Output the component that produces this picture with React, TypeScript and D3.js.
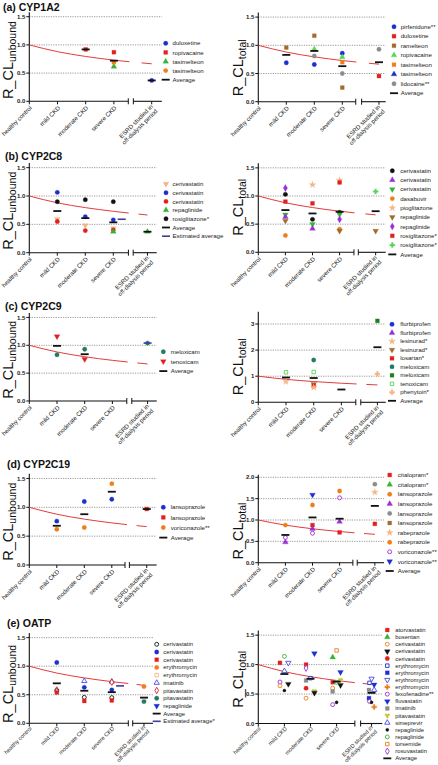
import React from "react";
import * as d3 from "d3";

const FONT = "'Liberation Sans', Arial, Helvetica, sans-serif";

const BLUE = "#1d2fd0";
const RED = "#e2201c";
const GREEN = "#33b533";
const LGREEN = "#55d655";
const ORANGE = "#f07d1a";
const BROWN = "#a06b2b";
const GRAY = "#8c8c8c";
const BLACK = "#111111";
const PURPLE = "#9b2fd6";
const TAN = "#f5b482";
const TEAL = "#217a66";
const DKGREEN = "#1e7d1e";
const YELLOW = "#c7c23a";
const NAVY = "#3d3d9e";
const VIOLET = "#4a4ae0";
const CURVE = "#e23c3c";

const CATEGORIES = ["healthy control", "mild CKD", "moderate CKD", "severe CKD", "ESRD studied in|off-dialysis period"];
// reference model curve at each category
const REF_CURVE = [1.0, 0.88, 0.795, 0.73, 0.665];

// ---------- (a) CYP1A2 ----------
const A1_NAMES = ["duloxetine", "ropivacaine", "tasimelteon", "tasimelteon"];
const A1_MARKS = [["circle", BLUE], ["square", RED], ["triUp", GREEN], ["circle", ORANGE]];
const A1_POINTS = [[1, 2, 0.92], [1, 3, 0.87], [2, 3, 0.615], [3, 3, 0.69], [0, 4, 0.37]];
const A1_AVG = [[2, 0.92], [3, 0.72], [4, 0.37]];

const A2_NAMES = ["pirfenidone**", "duloxetine", "ramelteon", "ropivacaine", "tasimelteon", "tasimelteon", "lidocaine**"];
const A2_MARKS = [["circle", BLUE], ["square", RED], ["square", BROWN], ["triUp", LGREEN], ["square", ORANGE], ["triUp", BLUE], ["circle", GRAY]];
const A2_POINTS = [
  [2, 1, 0.96], [0, 1, 0.69],
  [2, 2, 1.17], [3, 2, 0.93], [6, 2, 0.81], [0, 2, 0.66],
  [0, 3, 0.86], [3, 3, 0.79], [4, 3, 0.7], [6, 3, 0.5], [2, 3, 0.25],
  [6, 4, 0.93], [1, 4, 0.455],
];
const A2_AVG = [[1, 0.83], [2, 0.9], [3, 0.63], [4, 0.7]];

// ---------- (b) CYP2C8 ----------
const B1_NAMES = ["cerivastatin", "cerivastatin", "cerivastatin", "repaglinide", "rosiglitazone*"];
const B1_MARKS = [["triDown", TAN], ["circle", BLUE], ["circle", RED], ["triUp", GREEN], ["circle", BLACK]];
const B1_POINTS = [
  [1, 1, 1.065], [4, 1, 0.9], [0, 1, 0.59], [2, 1, 0.55],
  [4, 2, 0.935], [1, 2, 0.635], [0, 2, 0.48], [2, 2, 0.39],
  [4, 3, 0.9], [1, 3, 0.58], [0, 3, 0.43], [2, 3, 0.4], [3, 3, 0.37],
  [3, 4, 0.37],
];
const B1_AVG = [[1, 0.735], [2, 0.61], [3, 0.535], [4, 0.37]];
const B1_EST = [[3, 0.59, 0.3]];

const B2_NAMES = ["cerivastatin", "cerivastatin", "cerivastatin", "dasabuvir", "pioglitazone", "repaglinide", "repaglinide", "rosiglitazone*", "rosiglitazone*"];
const B2_MARKS = [["circle", BLACK], ["triUp", PURPLE], ["triDown", GREEN], ["circle", ORANGE], ["star", TAN], ["triDown", BROWN], ["diamond", PURPLE], ["square", RED], ["plus", LGREEN]];
const B2_POINTS = [
  [6, 1, 1.14], [0, 1, 1.03], [7, 1, 0.9], [2, 1, 0.67], [1, 1, 0.63], [5, 1, 0.56], [3, 1, 0.3],
  [4, 2, 1.2], [7, 2, 0.87], [0, 2, 0.585], [2, 2, 0.5], [1, 2, 0.42],
  [4, 3, 1.28], [7, 3, 1.24], [0, 3, 0.71], [2, 3, 0.675], [6, 3, 0.585], [3, 3, 0.41], [5, 3, 0.38],
  [8, 4, 1.08], [5, 4, 0.38],
];
const B2_AVG = [[1, 0.75], [2, 0.69], [3, 0.72], [4, 0.73]];

// ---------- (c) CYP2C9 ----------
const C1_NAMES = ["meloxicam", "tenoxicam"];
const C1_MARKS = [["circle", TEAL], ["triDown", RED]];
const C1_POINTS = [[1, 1, 1.16], [0, 1, 0.83], [0, 2, 0.93], [1, 2, 0.75], [0, 4, 1.04]];
const C1_AVG = [[1, 0.99], [2, 0.84]];
const C1_EST = [[4, 1.04, 0]];

const C2_NAMES = ["flurbiprofen", "flurbiprofen", "lesinurad*", "lesinurad*", "losartan*", "meloxicam", "meloxicam", "tenoxicam", "phenytoin*"];
const C2_MARKS = [["circle", BLUE], ["triUp", PURPLE], ["star", TAN], ["triDown", BROWN], ["square", RED], ["circle", TEAL], ["square", DKGREEN], ["oSquare", LGREEN], ["plus", TAN]];
const C2_POINTS = [
  [7, 1, 1.15], [2, 1, 0.79],
  [5, 2, 1.62], [7, 2, 1.16], [3, 2, 0.7], [4, 2, 0.63], [2, 2, 0.57],
  [6, 4, 3.12], [8, 4, 1.09],
];
const C2_AVG = [[1, 0.95], [2, 0.93], [3, 0.49], [4, 2.11]];

// ---------- (d) CYP2C19 ----------
const D1_NAMES = ["lansoprazole", "lansoprazole", "voriconazole**"];
const D1_MARKS = [["circle", BLUE], ["square", RED], ["circle", ORANGE]];
const D1_POINTS = [[0, 1, 0.76], [2, 1, 0.62], [0, 2, 1.1], [2, 2, 0.65], [2, 3, 1.41], [0, 3, 1.14], [1, 4, 0.97]];
const D1_AVG = [[1, 0.68], [2, 0.88], [3, 1.27], [4, 0.97]];

const D2_NAMES = ["citalopram*", "citalopram*", "lansoprazole", "lansoprazole", "lansoprazole", "lansoprazole", "rabeprazole", "rabeprazole", "voriconazole**", "voriconazole**"];
const D2_MARKS = [["square", RED], ["triUp", GREEN], ["circle", ORANGE], ["triUp", PURPLE], ["circle", GRAY], ["square", BROWN], ["star", TAN], ["circle", ORANGE], ["oCircle", PURPLE], ["triDown", BLUE]];
const D2_POINTS = [
  [2, 1, 0.88], [8, 1, 0.59], [3, 1, 0.48],
  [9, 2, 1.59], [7, 2, 1.35], [0, 2, 0.88], [3, 2, 0.79], [8, 2, 0.69],
  [7, 3, 1.68], [8, 3, 1.52], [3, 3, 0.96], [0, 3, 0.71],
  [4, 4, 1.84], [6, 4, 1.65], [0, 4, 0.91],
];
const D2_AVG = [[1, 0.65], [2, 1.06], [3, 1.03], [4, 1.33]];

// ---------- (e) OATP ----------
const E1_NAMES = ["cerivastatin", "cerivastatin", "cerivastatin", "erythromycin", "erythromycin", "imatinib", "pitavastatin", "pitavastatin", "repaglinide"];
const E1_MARKS = [["oCircle", BLACK], ["circle", BLUE], ["square", RED], ["circle", ORANGE], ["oSquare", TAN], ["oTriUp", VIOLET], ["oDiamond", RED], ["circle", TEAL], ["triDown", BLUE]];
const E1_POINTS = [
  [1, 1, 1.065], [6, 1, 0.585], [0, 1, 0.57], [2, 1, 0.54],
  [5, 2, 0.74], [1, 2, 0.63], [0, 2, 0.455], [2, 2, 0.39],
  [5, 3, 0.73], [6, 3, 0.72], [1, 3, 0.585], [0, 3, 0.45], [2, 3, 0.4],
  [3, 4, 0.645], [4, 4, 0.42], [7, 4, 0.38],
];
const E1_AVG = [[1, 0.7], [2, 0.57], [3, 0.545], [4, 0.45]];
const E1_EST = [[3, 0.655, 0.3]];

const E2_NAMES = ["atorvastatin", "bosentan", "cerivastatin", "cerivastatin", "cerivastatin", "erythromycin", "erythromycin", "erythromycin", "erythromycin", "fexofenadine**", "fluvastatin", "imatinib", "pitavastatin", "simeprevir", "repaglinide", "repaglinide", "torsemide", "rosuvastatin"];
const E2_MARKS = [["square", RED], ["triUp", GREEN], ["oCircle", ORANGE], ["triDown", BLACK], ["circle", RED], ["oSquare", BLUE], ["square", BLUE], ["oTriDown", VIOLET], ["plus", ORANGE], ["oCircle", PURPLE], ["triDown", BLUE], ["square", GRAY], ["wye", YELLOW], ["oTriUp", VIOLET], ["smallCircle", BLACK], ["oCircle", GREEN], ["oSquare", ORANGE], ["oDiamond", PURPLE]];
const E2_POINTS = [
  [0, 1, 1.03, -0.17], [15, 1, 1.14, 0], [7, 1, 1.03, 0.15], [13, 1, 0.89, 0], [9, 1, 0.705, -0.17], [2, 1, 0.64, -0.17], [3, 1, 0.67, 0.15], [14, 1, 0.56, 0],
  [10, 2, 1.19, 0.15], [0, 2, 1.0, -0.17], [17, 2, 0.94, -0.17], [5, 2, 0.77, 0], [11, 2, 0.73, -0.17], [4, 2, 0.6, -0.17], [12, 2, 0.55, 0.15], [3, 2, 0.52, 0.15], [2, 2, 0.43, -0.17],
  [16, 3, 1.24, 0], [1, 3, 1.125, -0.15], [10, 3, 0.87, 0.15], [0, 3, 0.7, -0.15], [15, 3, 0.7, 0], [12, 3, 0.74, 0.15], [3, 3, 0.65, 0.15], [2, 3, 0.6, -0.15], [11, 3, 0.545, -0.15], [14, 3, 0.36, 0], [9, 3, 0.32, -0.15],
  [7, 4, 0.76, 0], [5, 4, 0.69, -0.08], [10, 4, 0.66, 0.1], [11, 4, 0.57, -0.1], [13, 4, 0.57, 0.1], [6, 4, 0.43, -0.1], [9, 4, 0.375, -0.08], [14, 4, 0.36, 0], [8, 4, 0.28, 0.1],
];
const E2_AVG = [[1, 0.84], [2, 0.76], [3, 0.71], [4, 0.52]];

// ---------- layout ----------
const T15 = [0, 0.5, 1.0, 1.5];
const LFS = 6.1;
const L_A1 = { id: "a1", x0: 29.3, step: 28.2, esrd: 4.34, gridEnd: 4.7, brk: [3.51, 3.69], gap: [3.55, 3.98], y0: 101.3, per: 56.4, top: 1.58, ticks: T15, fmt: ".1f", labelX: 13, labelV: 0.73, mx: 165.7, tx: 172.5, ly: 43.3, ldy: 9.1, fs: LFS, xfs: 6.1, xoff: 5.5 };
const L_A2 = { id: "a2", x0: 258.3, step: 28, esrd: 4.31, gridEnd: 4.55, brk: [3.48, 3.69], gap: [3.5, 3.95], y0: 101.7, per: 56.4, top: 1.58, ticks: T15, fmt: ".1f", labelX: 243, labelV: 0.6, mx: 394, tx: 400.7, ly: 26.7, ldy: 9.5, fs: LFS, xfs: 6.1, xoff: 5.5 };
const L_B1 = { id: "b1", x0: 29.3, step: 28, esrd: 4.22, gridEnd: 4.55, brk: [3.54, 3.71], gap: [3.55, 3.9], y0: 252.7, per: 56.7, top: 1.58, ticks: T15, fmt: ".1f", labelX: 13, labelV: 0.74, mx: 166, tx: 172.5, ly: 184, ldy: 8.7, fs: LFS, xfs: 6.1, xoff: 5.5 };
const L_B2 = { id: "b2", x0: 258.3, step: 27.1, esrd: 4.33, gridEnd: 4.7, brk: [3.53, 3.69], gap: [3.55, 3.95], y0: 252.3, per: 56.3, top: 1.58, ticks: T15, fmt: ".1f", labelX: 243, labelV: 0.8, mx: 392.3, tx: 400.2, ly: 170.7, ldy: 9.3, fs: LFS, xfs: 6.1, xoff: 5.5 };
const L_C1 = { id: "c1", x0: 29.3, step: 27.7, esrd: 4.27, gridEnd: 4.6, brk: [3.52, 3.7], gap: [3.55, 3.9], y0: 401, per: 55.7, top: 1.58, ticks: T15, fmt: ".1f", labelX: 13, labelV: 0.74, mx: 163.3, tx: 170.7, ly: 351.7, ldy: 9.7, fs: LFS, xfs: 6.1, xoff: 5.5 };
const L_C2 = { id: "c2", x0: 258.3, step: 27.7, esrd: 4.3, gridEnd: 4.6, brk: [3.52, 3.7], gap: [3.55, 3.9], y0: 402.3, per: 26.1, top: 3.47, ticks: [0, 1, 2, 3], fmt: "d", labelX: 243, labelV: 1.36, mx: 392, tx: 400.2, ly: 324.3, ldy: 8.5, fs: LFS, xfs: 6.1, xoff: 5.5 };
const L_D1 = { id: "d1", x0: 29.3, step: 27.5, esrd: 4.27, gridEnd: 4.63, brk: [3.48, 3.64], gap: [3.55, 3.9], y0: 565, per: 57.7, top: 1.58, ticks: T15, fmt: ".1f", labelX: 13, labelV: 0.75, mx: 163.3, tx: 170.7, ly: 507.3, ldy: 10.1, fs: LFS, xfs: 6.1, xoff: 5.5 };
const L_D2 = { id: "d2", x0: 258.3, step: 27.1, esrd: 4.3, gridEnd: 4.64, brk: [3.49, 3.65], gap: [3.55, 3.9], y0: 562.7, per: 42.7, top: 2.06, ticks: [0, 0.5, 1, 1.5, 2], fmt: ".1f", labelX: 243, labelV: 0.74, mx: 389.7, tx: 397.8, ly: 475, ldy: 9.6, fs: LFS, xfs: 6.1, xoff: 5.5 };
const L_E1 = { id: "e1", x0: 29.3, step: 27.5, esrd: 4.17, gridEnd: 4.5, brk: [3.6, 3.76], gap: [3.6, 3.9], y0: 723.3, per: 57.1, top: 1.58, ticks: T15, fmt: ".1f", labelX: 13, labelV: 0.69, mx: 156.7, tx: 163.3, ly: 644.3, ldy: 7.7, fs: 5.9, xfs: 5.6, xoff: 4.2 };
const L_E2 = { id: "e2", x0: 258.3, step: 26.1, esrd: 4.34, gridEnd: 4.75, brk: [3.7, 3.92], gap: [3.7, 4.0], y0: 723.5, per: 58.9, top: 1.58, ticks: T15, fmt: ".1f", labelX: 243, labelV: 0.75, mx: 387.3, tx: 395.2, ly: 630, ldy: 7.13, fs: 5.9, xfs: 5.6, xoff: 4.2 };

const SYM: Record<string, any> = {
  circle: d3.symbolCircle, square: d3.symbolSquare, triUp: d3.symbolTriangle, triDown: d3.symbolTriangle,
  diamond: d3.symbolDiamond, star: d3.symbolStar, plus: d3.symbolCross, wye: d3.symbolWye, smallCircle: d3.symbolCircle,
};

function Marker({ shape, color, x, y }: { shape: string; color: string; x: number; y: number }) {
  const open = shape.startsWith("o");
  let base = open ? shape.slice(1) : shape;
  base = base.charAt(0).toLowerCase() + base.slice(1);
  const type = SYM[base] || d3.symbolCircle;
  let size = 15;
  if (base === "triUp" || base === "triDown") size = 14;
  if (base === "smallCircle") size = 8;
  if (base === "star") size = 14;
  if (base === "plus") size = 14;
  if (base === "wye") size = 12;
  if (open) size = 12;
  const d = d3.symbol().type(type).size(size)() as string;
  const rot = base === "triDown" ? " rotate(180)" : "";
  return (
    <path
      d={d}
      transform={`translate(${x},${y})${rot}`}
      fill={open ? "white" : color}
      stroke={color}
      strokeWidth={open ? 0.9 : 0.3}
    />
  );
}

function Panel({ L, sub, names, marks, points, avg, est = [], estName }: any) {
  const xs = d3.scaleLinear().domain([0, 1]).range([L.x0, L.x0 + L.step]);
  const ys = d3.scaleLinear().domain([0, 1]).range([L.y0, L.y0 - L.per]);
  const catPos = [0, 1, 2, 3, L.esrd];
  const cx = (c: number, dd = 0) => xs(catPos[c] + dd);
  const xEnd = xs(L.gridEnd);
  const b0 = xs(L.brk[0]);
  const b1 = xs(L.brk[1]);
  const curveData = REF_CURVE.map((v, i) => [catPos[i], v] as [number, number]);
  const line = d3
    .line<[number, number]>()
    .x((d) => xs(d[0]))
    .y((d) => ys(d[1]))
    .curve(d3.curveMonotoneX);
  const clipId = `clip-${L.id}`;
  const g0 = xs(L.gap[0]);
  const g1 = xs(L.gap[1]);
  const fmt = d3.format(L.fmt);
  const legendRows = names.length + 1 + (estName ? 1 : 0);
  return (
    <g fontFamily={FONT}>
      <defs>
        <clipPath id={clipId}>
          <rect x={L.x0 - 2} y={L.y0 - L.per * L.top - 5} width={g0 - L.x0 + 2} height={L.per * L.top + 10} />
          <rect x={g1} y={L.y0 - L.per * L.top - 5} width={xEnd - g1 + 4} height={L.per * L.top + 10} />
        </clipPath>
      </defs>
      {L.ticks.filter((t: number) => t > 0).map((t: number) => (
        <line key={"g" + t} x1={L.x0} x2={xEnd} y1={ys(t)} y2={ys(t)} stroke="#555" strokeWidth={0.6} strokeDasharray="1.2,1.2" />
      ))}
      <line x1={L.x0} x2={L.x0} y1={ys(0)} y2={ys(L.top)} stroke="#111" strokeWidth={1.1} />
      <line x1={L.x0} x2={b0} y1={ys(0)} y2={ys(0)} stroke="#111" strokeWidth={1.1} />
      <line x1={b1} x2={xEnd} y1={ys(0)} y2={ys(0)} stroke="#111" strokeWidth={1.1} />
      <line x1={b0} x2={b0} y1={ys(0) - 3} y2={ys(0) + 3} stroke="#111" strokeWidth={1} />
      <line x1={b1} x2={b1} y1={ys(0) - 3} y2={ys(0) + 3} stroke="#111" strokeWidth={1} />
      {L.ticks.map((t: number) => (
        <g key={"yt" + t}>
          <line x1={L.x0 - 3} x2={L.x0} y1={ys(t)} y2={ys(t)} stroke="#111" strokeWidth={1} />
          <text x={L.x0 - 4} y={ys(t)} dy="0.35em" textAnchor="end" fontSize={6} fontWeight="bold" fill="#222">
            {fmt(t)}
          </text>
        </g>
      ))}
      {CATEGORIES.map((c, i) => {
        const x = cx(i);
        const lines = c.split("|");
        return (
          <g key={"xt" + i}>
            <line x1={x} x2={x} y1={ys(0)} y2={ys(0) + 3} stroke="#111" strokeWidth={1} />
            <text transform={`translate(${x + 1.5},${ys(0) + L.xoff}) rotate(-45)`} textAnchor="end" fontSize={L.xfs} fill="#222">
              {lines.map((s, k) => (
                <tspan key={k} x={0} dy={k === 0 ? (lines.length > 1 ? "0.05em" : "0.35em") : "1.05em"}>
                  {s}
                </tspan>
              ))}
            </text>
          </g>
        );
      })}
      <text transform={`translate(${L.labelX},${ys(L.labelV)}) rotate(-90)`} textAnchor="middle" fill="#111">
        <tspan fontSize={14.5}>R_CL</tspan>
        <tspan fontSize={10.5} dy={3}>
          {sub}
        </tspan>
      </text>
      <path d={line(curveData) as string} fill="none" stroke={CURVE} strokeWidth={1} clipPath={`url(#${clipId})`} />
      {points.map((p: number[], i: number) => (
        <Marker key={"p" + i} shape={marks[p[0]][0]} color={marks[p[0]][1]} x={cx(p[1], p[3] || 0)} y={ys(p[2])} />
      ))}
      {avg.map((a: number[], i: number) => (
        <line key={"a" + i} x1={cx(a[0]) - 4} x2={cx(a[0]) + 4} y1={ys(a[1])} y2={ys(a[1])} stroke={BLACK} strokeWidth={1.8} />
      ))}
      {est.map((a: number[], i: number) => (
        <line key={"e" + i} x1={cx(a[0], a[2]) - 4} x2={cx(a[0], a[2]) + 4} y1={ys(a[1])} y2={ys(a[1])} stroke={NAVY} strokeWidth={1.6} />
      ))}
      {names.map((n: string, i: number) => (
        <g key={"l" + i}>
          <Marker shape={marks[i][0]} color={marks[i][1]} x={L.mx} y={L.ly + i * L.ldy} />
          <text x={L.tx} y={L.ly + i * L.ldy} dy="0.35em" fontSize={L.fs} fill="#222">
            {n}
          </text>
        </g>
      ))}
      <g>
        <line x1={L.mx - 4} x2={L.mx + 4} y1={L.ly + names.length * L.ldy} y2={L.ly + names.length * L.ldy} stroke={BLACK} strokeWidth={1.8} />
        <text x={L.tx} y={L.ly + names.length * L.ldy} dy="0.35em" fontSize={L.fs} fill="#222">
          Average
        </text>
      </g>
      {estName && (
        <g>
          <line x1={L.mx - 4} x2={L.mx + 4} y1={L.ly + (legendRows - 1) * L.ldy} y2={L.ly + (legendRows - 1) * L.ldy} stroke={NAVY} strokeWidth={1.6} />
          <text x={L.tx} y={L.ly + (legendRows - 1) * L.ldy} dy="0.35em" fontSize={L.fs} fill="#222">
            {estName}
          </text>
        </g>
      )}
    </g>
  );
}

const TITLES = [
  { t: "(a) CYP1A2", x: 3, y: 11 },
  { t: "(b) CYP2C8", x: 5, y: 160 },
  { t: "(c) CYP2C9", x: 5, y: 310 },
  { t: "(d) CYP2C19", x: 7, y: 468 },
  { t: "(e) OATP", x: 7, y: 627 },
];

export default function App() {
  return (
    <svg width={438} height={765} style={{ position: "absolute", left: 0, top: 0, background: "#fff" }}>
      <rect width={438} height={765} fill="#fff" />
      {TITLES.map((t) => (
        <text key={t.t} x={t.x} y={t.y} fontFamily={FONT} fontWeight="bold" fontSize={10.5} fill="#111">
          {t.t}
        </text>
      ))}
      <Panel L={L_A1} sub="unbound" names={A1_NAMES} marks={A1_MARKS} points={A1_POINTS} avg={A1_AVG} />
      <Panel L={L_A2} sub="total" names={A2_NAMES} marks={A2_MARKS} points={A2_POINTS} avg={A2_AVG} />
      <Panel L={L_B1} sub="unbound" names={B1_NAMES} marks={B1_MARKS} points={B1_POINTS} avg={B1_AVG} est={B1_EST} estName="Estimated average" />
      <Panel L={L_B2} sub="total" names={B2_NAMES} marks={B2_MARKS} points={B2_POINTS} avg={B2_AVG} />
      <Panel L={L_C1} sub="unbound" names={C1_NAMES} marks={C1_MARKS} points={C1_POINTS} avg={C1_AVG} est={C1_EST} />
      <Panel L={L_C2} sub="total" names={C2_NAMES} marks={C2_MARKS} points={C2_POINTS} avg={C2_AVG} />
      <Panel L={L_D1} sub="unbound" names={D1_NAMES} marks={D1_MARKS} points={D1_POINTS} avg={D1_AVG} />
      <Panel L={L_D2} sub="total" names={D2_NAMES} marks={D2_MARKS} points={D2_POINTS} avg={D2_AVG} />
      <Panel L={L_E1} sub="unbound" names={E1_NAMES} marks={E1_MARKS} points={E1_POINTS} avg={E1_AVG} est={E1_EST} estName="Estimated average*" />
      <Panel L={L_E2} sub="total" names={E2_NAMES} marks={E2_MARKS} points={E2_POINTS} avg={E2_AVG} />
    </svg>
  );
}
